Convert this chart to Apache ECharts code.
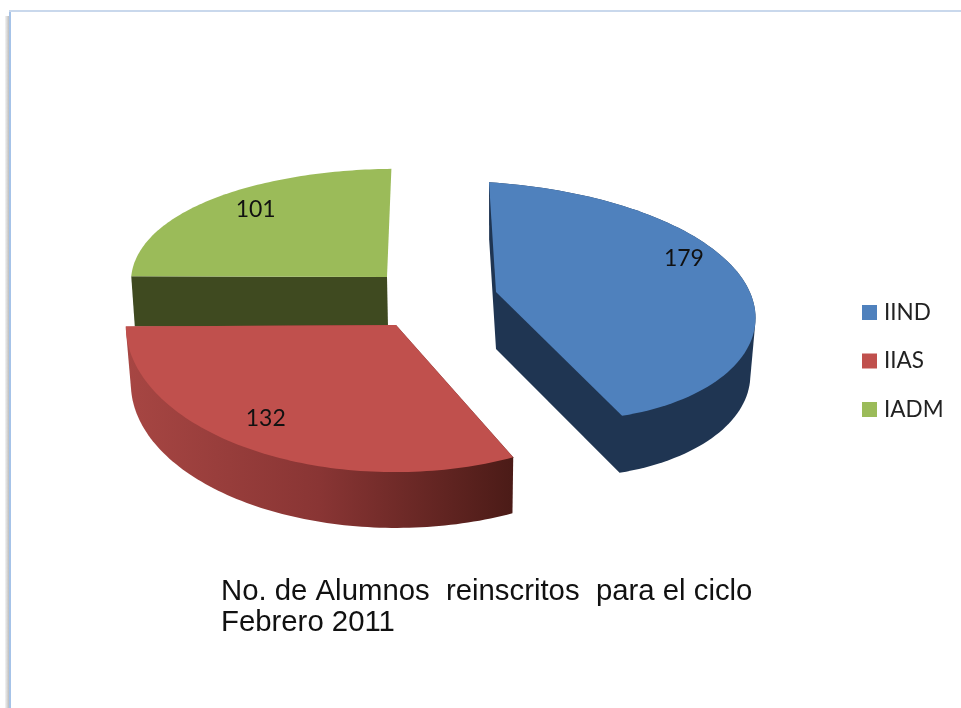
<!DOCTYPE html>
<html>
<head>
<meta charset="utf-8">
<style>html,body{margin:0;padding:0;background:#fff}#c{width:961px;height:708px}</style>
<script src="https://cdn.jsdelivr.net/npm/echarts@6/dist/echarts.min.js"></script>
</head>
<body>
<div id="c"></div>
<script>
const categories = ['IIND', 'IIAS', 'IADM'];
const values = [179, 132, 101];
const titleLines = ['No. de Alumnos  reinscritos  para el ciclo', 'Febrero 2011'];

const colors = ['#4f81bd', '#c0504d', '#9bbb59'];
const wallColors = [
  '#1f3552',
  {type:'linear',global:true,x:126,y:0,x2:513,y2:0,colorStops:[
    {offset:0,color:'#a74643'},{offset:.5,color:'#893534'},{offset:1,color:'#4b1b17'}]},
  '#3f4a20'
];
// Projection of each exploded slice's disc onto the page (3D look)
const frames = [
  {cx:496,cy:292,a:259,d:18,b:-16.1,c:9.1,e:-118,g:.075,depth:57,s:.98,sy:1,sx:0,nudge:[0,-29]},
  {cx:396,cy:325,a:270,d:-6,b:-10,c:0,e:-147,g:0,depth:58,s:.985,sy:.985,sx:1,nudge:[-23,0]},
  {cx:387,cy:277,a:256,d:-3,b:4.4,c:0,e:-119,g:.1,depth:50,s:.99,sy:.99,sx:1,nudge:[0,-8],frontOnly:true}
];
const total = values.reduce((p, v) => p + v, 0);

function project(f, deg, r) {
  const t = deg * Math.PI / 180, X = Math.sin(t) * r, Y = Math.cos(t) * r, w = 1 + f.g * Y;
  return [f.cx + f.a * X + f.b * Y + f.c * Y * Y, f.cy + (f.d * X + f.e * Y) / w];
}
function hull(pts) {
  const p = pts.slice().sort((m, n) => m[0] - n[0] || m[1] - n[1]);
  const cr = (o, m, n) => (m[0]-o[0])*(n[1]-o[1]) - (m[1]-o[1])*(n[0]-o[0]);
  const lo = [], up = [];
  for (const q of p) { while (lo.length > 1 && cr(lo[lo.length-2], lo[lo.length-1], q) <= 0) lo.pop(); lo.push(q); }
  for (const q of p.slice().reverse()) { while (up.length > 1 && cr(up[up.length-2], up[up.length-1], q) <= 0) up.pop(); up.push(q); }
  return lo.slice(0, -1).concat(up.slice(0, -1));
}
function renderSlice(i, api) {
  const f = frames[i], v = api.value(0);
  let before = 0;
  for (let k = 0; k < i; k++) before += values[k];
  const start = before / total * 360, sweep = v / total * 360;
  const top = [[f.cx, f.cy]];
  const N = 90;
  for (let k = 0; k <= N; k++) top.push(project(f, start + sweep * k / N, 1));
  const wallTop = f.frontOnly ? top.filter(p => p[1] >= f.cy - 1) : top;
  const bottom = wallTop.map(p => [f.cx + (p[0] - f.cx) * f.s + f.sx, f.cy + (p[1] - f.cy) * f.sy + f.depth]);
  const lab = project(f, start + sweep / 2, .75);
  return {type:'group', silent:true, children:[
    {type:'polygon', shape:{points:hull(wallTop.concat(bottom))}, style:{fill:wallColors[i]}},
    {type:'polygon', shape:{points:top}, style:{fill:colors[i]}},
    {type:'text', style:{text:String(v), x:lab[0] + f.nudge[0], y:lab[1] + f.nudge[1], align:'center', verticalAlign:'middle',
      font:'23px Lato', fill:'#111'}}
  ]};
}
const chart = echarts.init(document.getElementById('c'), null, {renderer:'canvas'});
chart.setOption({
  animation:false,
  backgroundColor:'#ffffff',
  title:{text:titleLines.join('\n'), left:221, top:576, padding:0,
    textStyle:{fontFamily:'Liberation Sans', fontSize:29.33, fontWeight:'normal', color:'#111', lineHeight:31}},
  legend:{data:categories, orient:'vertical', left:862, top:301, padding:0, icon:'rect', itemWidth:15, itemHeight:15, itemGap:25.5, selectedMode:false,
    textStyle:{fontFamily:'Lato', fontSize:22.5, color:'#222', padding:[0,0,0,2]}},
  series:categories.map((name, i) => ({
    type:'custom', name, coordinateSystem:'none', z:3 - i,
    itemStyle:{color:colors[i]},
    data:[[values[i]]],
    renderItem:(p, api) => renderSlice(i, api)
  })),
  graphic:[
    {type:'rect', shape:{x:5,y:16,width:4,height:692}, style:{fill:{type:'linear',x:0,y:0,x2:1,y2:0,colorStops:[{offset:0,color:'#f4f4f4'},{offset:1,color:'#bdbdbd'}]}}},
    {type:'rect', shape:{x:9,y:10,width:2,height:698}, style:{fill:'#a6c3e8'}},
    {type:'rect', shape:{x:9,y:10,width:952,height:2}, style:{fill:'#c9d8ec'}}
  ]
});
</script>
</body>
</html>
